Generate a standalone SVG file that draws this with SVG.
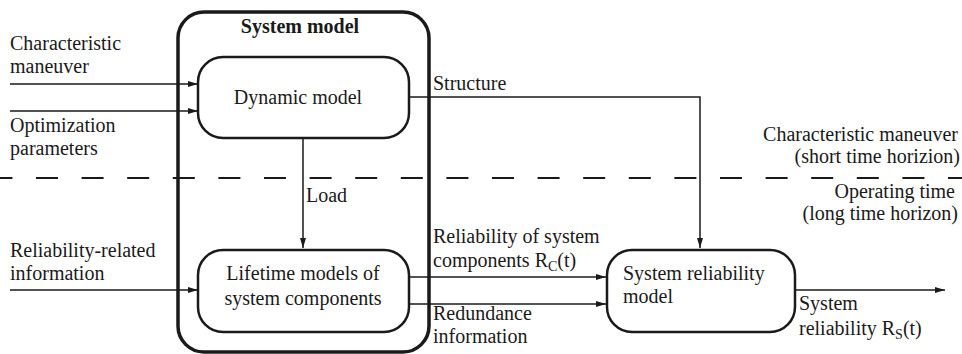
<svg xmlns="http://www.w3.org/2000/svg" width="962" height="354" viewBox="0 0 962 354">
<style>
text{font-family:'Liberation Serif','Times New Roman','Nimbus Roman','DejaVu Serif',serif;font-size:20px;fill:#1a1a1a}
.b{font-weight:bold}
.box{fill:#fff;stroke:#1a1a1a;stroke-width:2.5}
.c{fill:none;stroke:#1a1a1a;stroke-width:1.5}
.sub{font-size:14px}
</style>
<defs>
<marker id="ah" viewBox="0 0 10 6" refX="10" refY="3" markerWidth="10" markerHeight="6" markerUnits="userSpaceOnUse" orient="auto">
<path d="M0,0 L10,3 L0,6 Z" fill="#1a1a1a"/>
</marker>
</defs>
<rect width="962" height="354" fill="#fff"/>
<line x1="0" y1="178" x2="962" y2="178" stroke="#1a1a1a" stroke-width="2" stroke-dasharray="22 23.6" stroke-dashoffset="9.6"/>
<g id="system-model">
<rect x="178" y="12" width="251" height="340" rx="26" fill="none" stroke="#1a1a1a" stroke-width="3.5"/>
<text class="b" x="300" y="33" text-anchor="middle">System model</text>
</g>
<g id="connectors">
<path class="c" d="M10,84 H198" marker-end="url(#ah)"/>
<path class="c" d="M10,111 H198" marker-end="url(#ah)"/>
<path class="c" d="M409,97 H700 V248" marker-end="url(#ah)"/>
<path class="c" d="M303,138 V248" marker-end="url(#ah)"/>
<path class="c" d="M10,290 H198" marker-end="url(#ah)"/>
<path class="c" d="M409,277 H606" marker-end="url(#ah)"/>
<path class="c" d="M409,304 H606" marker-end="url(#ah)"/>
<path class="c" d="M795,290 H945" marker-end="url(#ah)"/>
<text x="433" y="90">Structure</text>
<text x="306" y="202">Load</text>
<text x="433" y="243">Reliability of system</text>
<text x="433" y="267">components R<tspan class="sub" dy="4">C</tspan><tspan dy="-4">(t)</tspan></text>
<text x="433" y="320">Redundance</text>
<text x="433" y="343">information</text>
<text x="799" y="310">System</text>
<text x="799" y="335">reliability R<tspan class="sub" dy="4">S</tspan><tspan dy="-4">(t)</tspan></text>
</g>
<g id="inputs">
<text x="10" y="50">Characteristic</text>
<text x="10" y="73">maneuver</text>
<text x="10" y="132">Optimization</text>
<text x="10" y="155">parameters</text>
<text x="10" y="257">Reliability-related</text>
<text x="10" y="280">information</text>
</g>
<g id="horizons">
<text x="958" y="141" text-anchor="end">Characteristic maneuver</text>
<text x="960" y="163" text-anchor="end">(short time horizion)</text>
<text x="955" y="198" text-anchor="end">Operating time</text>
<text x="958" y="220" text-anchor="end">(long time horizon)</text>
</g>
<g id="dynamic-model">
<rect class="box" x="198" y="57" width="211" height="81" rx="25"/>
<text x="298" y="104" text-anchor="middle">Dynamic model</text>
</g>
<g id="lifetime-models">
<rect class="box" x="198" y="250" width="211" height="82" rx="25"/>
<text x="303" y="280" text-anchor="middle">Lifetime models of</text>
<text x="303" y="305" text-anchor="middle">system components</text>
</g>
<g id="system-reliability-model">
<rect class="box" x="607" y="250" width="188" height="82" rx="25"/>
<text x="623" y="280">System reliability</text>
<text x="623" y="303">model</text>
</g>
</svg>
